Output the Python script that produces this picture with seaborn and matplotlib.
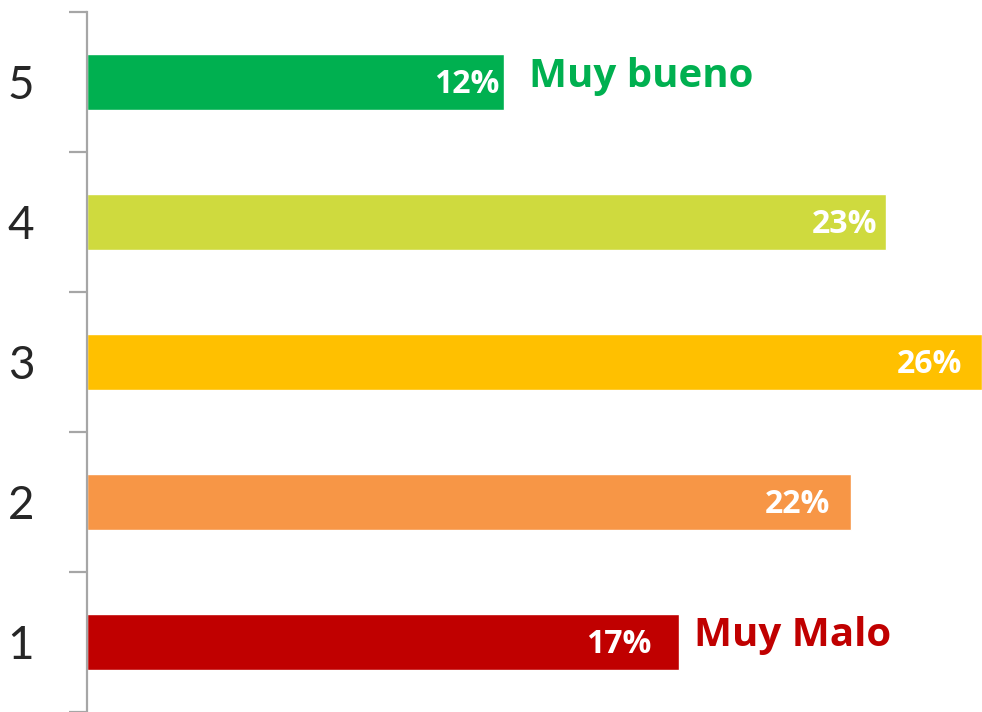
import matplotlib
matplotlib.use('Agg')
import matplotlib.pyplot as plt
import pandas as pd
import seaborn as sns
from matplotlib.ticker import FixedLocator

# data (top to bottom)
categories = ['5', '4', '3', '2', '1']
values = [12.1, 23.2, 26.0, 22.2, 17.2]
colors = ['#00B050', '#CFDA3E', '#FFC000', '#F79646', '#C00000']
end_labels = {'5': ('Muy bueno', '#00B050'), '1': ('Muy Malo', '#C00000')}

# label placement (points from bar end)
pct_offsets = [-3, -6, -14, -15, -20]
end_offsets = {'5': (18, 4), '1': (11, 5)}

df = pd.DataFrame({'cat': categories, 'val': values})

sns.set_style('white')
plt.rcParams['font.family'] = ['Lato', 'DejaVu Sans']

fig = plt.figure(figsize=(9.82, 7.12), dpi=100)
ax = fig.add_axes([87 / 982, 0, 1 - 87 / 982, 1 - 12 / 712])

sns.barplot(data=df, x='val', y='cat', hue='cat', order=categories,
            palette=dict(zip(categories, colors)), orient='h', width=0.4,
            legend=False, ax=ax, saturation=1)

ax.set_xlim(0, max(values))
ax.set_ylim(len(categories) - 0.5, -0.5)
ax.set_xlabel('')
ax.set_ylabel('')
ax.set_xticks([])

for s in ['top', 'right', 'bottom']:
    ax.spines[s].set_visible(False)
ax.spines['left'].set_color('#A6A6A6')
ax.spines['left'].set_linewidth(1.6)

ax.yaxis.set_minor_locator(FixedLocator([i - 0.5 for i in range(len(categories) + 1)]))
ax.tick_params(axis='y', which='minor', length=13, width=1.6, color='#A6A6A6', left=True)
ax.tick_params(axis='y', which='major', length=0, pad=38, labelsize=33)

bold = ['Open Sans', 'DejaVu Sans']
for i, (c, v) in enumerate(zip(categories, values)):
    ax.annotate(f'{round(v)}%', xy=(v, i), xytext=(pct_offsets[i], -2),
                textcoords='offset points', ha='right', va='center', color='white',
                fontsize=23, fontweight='bold', family=bold)
    if c in end_labels:
        txt, col = end_labels[c]
        ax.annotate(txt, xy=(v, i), xytext=end_offsets[c], textcoords='offset points',
                    ha='left', va='center', color=col, fontsize=29, fontweight='bold',
                    family=bold)

fig.savefig('out.png', dpi=100)
